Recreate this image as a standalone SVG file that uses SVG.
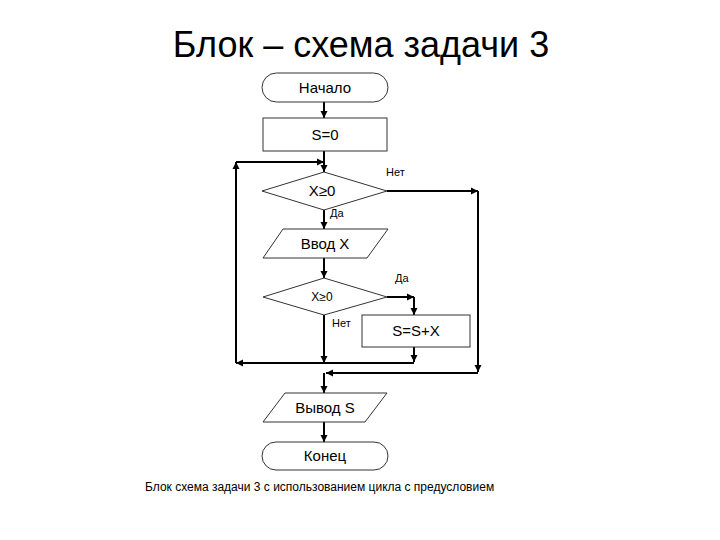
<svg xmlns="http://www.w3.org/2000/svg" width="720" height="540" viewBox="0 0 720 540">
<style>
text{font-family:"Liberation Sans",Arial,sans-serif;fill:#000}
.shape{fill:#fff;stroke:#333;stroke-width:1}
.lbl{font-size:15px;text-anchor:middle}
.small{font-size:11px}
.conn{fill:none;stroke:#000;stroke-width:2}
</style>
<defs>
<marker id="ah" markerUnits="userSpaceOnUse" markerWidth="8" markerHeight="8" refX="7" refY="4" orient="auto">
<path d="M0,0.5 L7,4 L0,7.5 Z" fill="#000"/>
</marker>
</defs>
<rect width="720" height="540" fill="#fff"/>
<text x="361" y="57" font-size="36" text-anchor="middle">Блок – схема задачи 3</text>

<g id="connectors">
<path class="conn" d="M324,102 V118" marker-end="url(#ah)"/>
<path class="conn" d="M324,151 V172" marker-end="url(#ah)"/>
<path class="conn" d="M324,210 V229" marker-end="url(#ah)"/>
<path class="conn" d="M324,258 V278" marker-end="url(#ah)"/>
<path class="conn" d="M387,191 H478" marker-end="url(#ah)"/>
<path class="conn" d="M478,191 V372" marker-end="url(#ah)"/>
<path class="conn" d="M478,373 H326" marker-end="url(#ah)"/>
<path class="conn" d="M387,297 H414" marker-end="url(#ah)"/>
<path class="conn" d="M414,297 V315" marker-end="url(#ah)"/>
<path class="conn" d="M414,347 V362" marker-end="url(#ah)"/>
<path class="conn" d="M414,363 H236" marker-end="url(#ah)"/>
<path class="conn" d="M324,315 V363" marker-end="url(#ah)"/>
<path class="conn" d="M236,363 V162" marker-end="url(#ah)"/>
<path class="conn" d="M236,162 H324" marker-end="url(#ah)"/>
<path class="conn" d="M324,373 V393" marker-end="url(#ah)"/>
<path class="conn" d="M324,422 V442" marker-end="url(#ah)"/>
<text class="small" x="386" y="176">Нет</text>
<text class="small" x="330" y="217">Да</text>
<text class="small" x="395" y="282">Да</text>
<text class="small" x="332" y="327">Нет</text>
</g>

<g id="start">
<rect class="shape" x="262" y="73" width="126" height="29" rx="14.5"/>
<text class="lbl" x="325" y="93">Начало</text>
</g>
<g id="init">
<rect class="shape" x="263" y="118" width="124" height="33"/>
<text class="lbl" x="325" y="140">S=0</text>
</g>
<g id="cond1">
<polygon class="shape" points="324,172 387,191 324,210 262,191"/>
<text class="lbl" x="322" y="196">X≥0</text>
</g>
<g id="input">
<polygon class="shape" points="283,229 388,229 367,258 263,258"/>
<text class="lbl" x="325" y="249">Ввод X</text>
</g>
<g id="cond2">
<polygon class="shape" points="324,278 387,297 324,315 263,297"/>
<text class="lbl" x="322" y="301" style="font-size:12px">X≥0</text>
</g>
<g id="sum">
<rect class="shape" x="362" y="315" width="108" height="32"/>
<text class="lbl" x="416" y="336">S=S+X</text>
</g>
<g id="output">
<polygon class="shape" points="285,393 387,393 365,422 263,422"/>
<text class="lbl" x="325" y="413">Вывод S</text>
</g>
<g id="end">
<rect class="shape" x="262" y="442" width="126" height="28" rx="14"/>
<text class="lbl" x="325" y="461">Конец</text>
</g>
<text x="145" y="491" font-size="12">Блок схема задачи 3 с использованием цикла с предусловием</text>
</svg>
